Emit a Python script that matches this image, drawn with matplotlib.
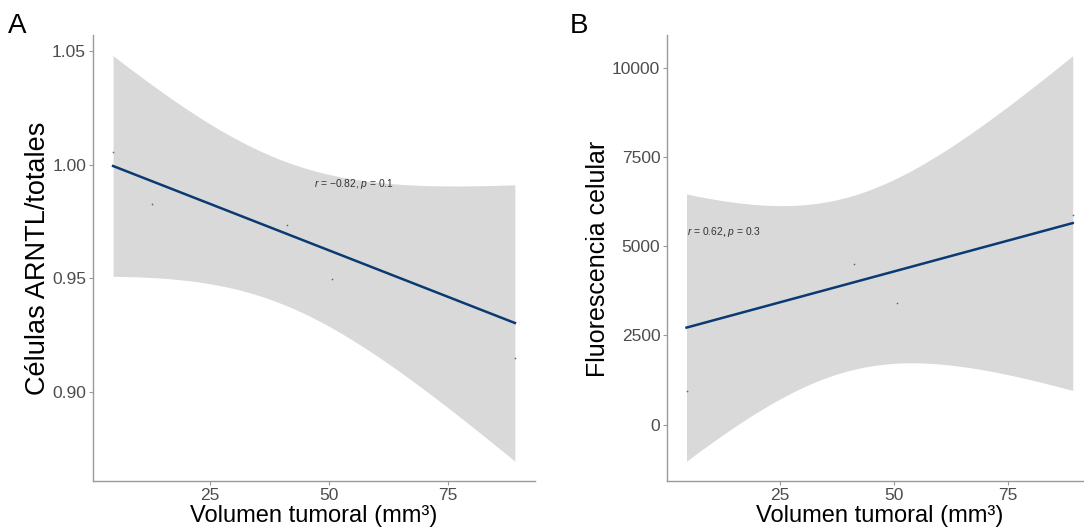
import numpy as np
import matplotlib
matplotlib.use("Agg")
from matplotlib import pyplot as plt

plt.rcParams['font.family'] = ['Liberation Sans', 'DejaVu Sans']
plt.rcParams['mathtext.fontset'] = 'custom'
plt.rcParams['mathtext.rm'] = 'Liberation Sans'
plt.rcParams['mathtext.it'] = 'Liberation Sans:italic'

# datos
volumen = [4.6, 12.8, 41.2, 50.6, 89.1]

celulas = [1.0123, 0.9689, 0.9940, 0.9501, 0.9285]          # valores usados en el ajuste
celulas_puntos = [1.0056, 0.9827, 0.9735, 0.9496, 0.9149]   # puntos dibujados (con jitter)

fluor = [968, 5165, 4401, 3373, 5779]
fluor_puntos = [955, 5318, 4494, 3413, 5879]

ticks_x = [25, 50, 75]
ticks_a = [0.90, 0.95, 1.00, 1.05]
ticks_b = [0, 2500, 5000, 7500, 10000]

t975 = 3.182  # t(0.975, gl = 3)

line_col = '#0b3a73'
band_col = '#d9d9d9'
axis_col = '#9a9a9a'
tick_txt = '#4d4d4d'


def panel(ax, x, y, ypts, yticks, fmt, ylabel, ysize, ypad, label, lx, ly):
    x = np.array(x, float)
    y = np.array(y, float)
    n = len(x)
    b, a = np.polyfit(x, y, 1)
    xs = np.linspace(x.min(), x.max(), 200)
    fit = a + b * xs
    res = y - (a + b * x)
    s = np.sqrt((res ** 2).sum() / (n - 2))
    sxx = ((x - x.mean()) ** 2).sum()
    se = s * np.sqrt(1 / n + (xs - x.mean()) ** 2 / sxx)
    lo, hi = fit - t975 * se, fit + t975 * se

    ax.fill_between(xs, lo, hi, color=band_col, lw=0, zorder=1)
    ax.plot(xs, fit, color=line_col, lw=1.8, zorder=3)
    ax.scatter(x, ypts, s=1.5, color='#4a6a9a', zorder=4, linewidths=0)

    xr = x.max() - x.min()
    ax.set_xlim(x.min() - 0.05 * xr, x.max() + 0.05 * xr)
    ymin = min(lo.min(), min(ypts)); ymax = max(hi.max(), max(ypts))
    yr = ymax - ymin
    ax.set_ylim(ymin - 0.05 * yr, ymax + 0.05 * yr)

    ax.set_xticks(ticks_x)
    ax.set_yticks(yticks)
    ax.set_yticklabels([fmt(v) for v in yticks])
    ax.tick_params(colors=axis_col, labelcolor=tick_txt, labelsize=12.5, length=3, width=0.8, pad=2)
    for sp in ['top', 'right']:
        ax.spines[sp].set_visible(False)
    for sp in ['left', 'bottom']:
        ax.spines[sp].set_color(axis_col)
        ax.spines[sp].set_linewidth(1.0)
    ax.set_xlabel('Volumen tumoral (mm³)', fontsize=17, labelpad=1)
    ax.set_ylabel(ylabel, fontsize=ysize, labelpad=ypad)
    ax.text(lx, ly, label, fontsize=7.4, color='#333333', ha='left', va='center', zorder=5)


fig = plt.figure(figsize=(10.84, 5.29), dpi=100)
ax1 = fig.add_axes([0.0858, 0.0898, 0.4077, 0.8433])
ax2 = fig.add_axes([0.6155, 0.0898, 0.3919, 0.8433])

panel(ax1, volumen, celulas, celulas_puntos, ticks_a, lambda v: '%.2f' % v,
      'Células ARNTL/totales', 19.5, 0.5, r'$\it{r}$ = −0.82, $\it{p}$ = 0.1', 46.8, 0.9913)
panel(ax2, volumen, fluor, fluor_puntos, ticks_b, lambda v: '%d' % v,
      'Fluorescencia celular', 18, 1.5, r'$\it{r}$ = 0.62, $\it{p}$ = 0.3', 4.7, 5414)

fig.text(8 / 1084, 1 - 33 / 529, 'A', fontsize=20, ha='left', va='baseline')
fig.text(570 / 1084, 1 - 33 / 529, 'B', fontsize=20, ha='left', va='baseline')

fig.savefig('out.png', dpi=100)
